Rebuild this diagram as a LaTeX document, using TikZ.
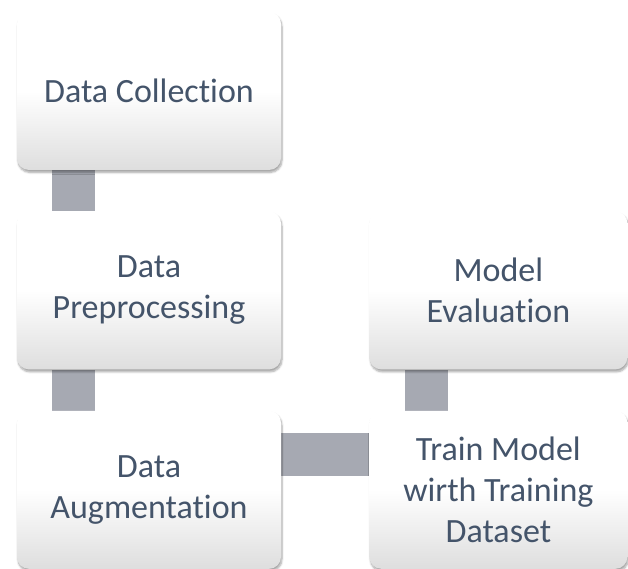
\documentclass[tikz,border=0pt]{standalone}
\usepackage{fontspec}
\setmainfont[Ligatures={NoCommon,NoContextual},Contextuals=NoAlternate]{Carlito}
\usepackage{tikz}
\usetikzlibrary{positioning,shadows.blur,backgrounds}
\definecolor{txtblue}{RGB}{68,84,106}
\definecolor{bargray}{RGB}{166,169,178}

\begin{document}
\begin{tikzpicture}[x=1pt,y=1pt,node distance=41pt and 88pt]
    \tikzstyle{stagebox}=[rectangle,rounded corners=12pt,minimum width=264pt,minimum height=158pt,
        top color=white,bottom color=black!13,middle color=white,text=txtblue,
        font=\fontsize{34}{41}\selectfont,align=center,
        blur shadow={shadow xshift=1pt,shadow yshift=-2.5pt,shadow opacity=35,shadow blur steps=6}];
    \tikzstyle{bar}=[draw=bargray,line width=43pt];

    \useasboundingbox (0,0) rectangle (628,-569);

    \node[stagebox] (coll) at (149,-91) {Data Collection};
    \node[stagebox] (prep) [below=of coll] {Data\\Preprocessing};
    \node[stagebox] (augm) [below=of prep] {Data\\Augmentation};
    \node[stagebox,minimum width=258pt] (train) [right=of augm] {Train Model\\wirth Training\\Dataset};
    \node[stagebox,minimum width=258pt] (eval) [above=of train] {Model\\Evaluation};

    \begin{scope}[on background layer]
    \draw[bar] ([xshift=-75.5pt]coll.south) -- ([xshift=-75.5pt]prep.north);
    \draw[bar] ([xshift=-75.5pt]prep.south) -- ([xshift=-75.5pt]augm.north);
    \draw[bar] ([yshift=35pt]augm.east) -- ([yshift=35pt]train.west);
    \draw[bar] ([xshift=-72pt]eval.south) -- ([xshift=-72pt]train.north);
    \end{scope}

\end{tikzpicture}
\end{document}
